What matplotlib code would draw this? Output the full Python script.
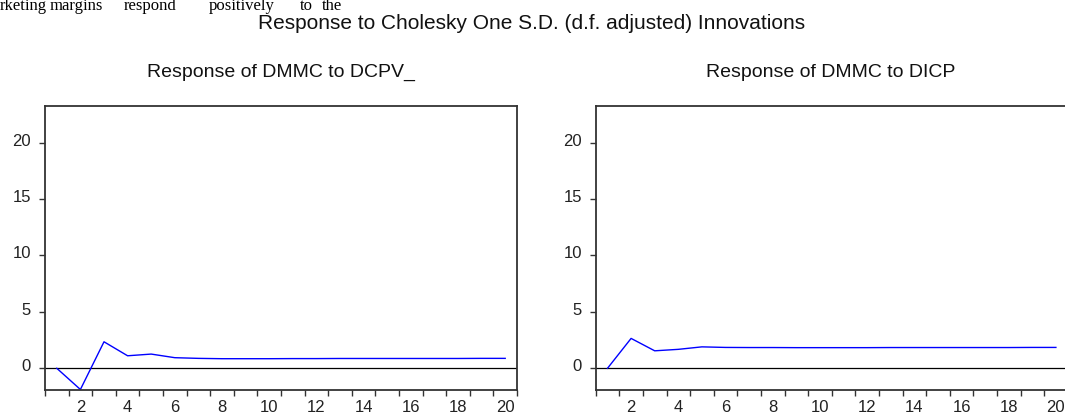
import numpy as np
import matplotlib
matplotlib.use("Agg")
import matplotlib.pyplot as plt
from matplotlib.ticker import FixedLocator
from matplotlib.transforms import ScaledTranslation

periods = list(range(1, 21))
resp_dcpv = [0.0, -1.88, 2.35, 1.11, 1.26, 0.94, 0.88, 0.85, 0.85, 0.85,
             0.86, 0.86, 0.87, 0.87, 0.87, 0.87, 0.87, 0.87, 0.88, 0.88]
resp_dicp = [0.0, 2.65, 1.55, 1.68, 1.90, 1.85, 1.84, 1.84, 1.83, 1.83,
             1.83, 1.83, 1.84, 1.84, 1.84, 1.84, 1.84, 1.84, 1.85, 1.85]
y_ticks = [0, 5, 10, 15, 20]
x_labels = [2, 4, 6, 8, 10, 12, 14, 16, 18, 20]

main_title = "Response to Cholesky One S.D. (d.f. adjusted) Innovations"
titles = ["Response of DMMC to DCPV_", "Response of DMMC to DICP"]
doc_words = ["rketing", "margins", "respond", "positively", "to", "the"]

W, H = 1065, 414


def setup_axes(ax):
    ax.set_xlim(0.5, 20.5)
    ax.set_ylim(-1.88, 23.28)
    for s in ax.spines.values():
        s.set_color("#333333")
        s.set_linewidth(1.3)
    ax.axhline(0, color="black", lw=0.9, zorder=1)
    ax.xaxis.set_major_locator(FixedLocator(x_labels))
    ax.xaxis.set_minor_locator(FixedLocator(np.arange(0.5, 21, 1.0)))
    ax.tick_params(axis="x", which="major", length=0, pad=7,
                   labelsize=12, labelcolor="#222222")
    ax.tick_params(axis="x", which="minor", length=4.5, width=1,
                   direction="out", color="#333333")
    ax.set_yticks(y_ticks)
    ax.tick_params(axis="y", length=4, width=1, direction="out",
                   color="#333333", pad=6, labelsize=12, labelcolor="#222222")
    off = ScaledTranslation(0, 4 / 100, ax.figure.dpi_scale_trans)
    for lbl in ax.get_yticklabels():
        lbl.set_transform(lbl.get_transform() + off)


def main():
    plt.rcParams["font.family"] = ["Liberation Sans", "DejaVu Sans"]
    fig = plt.figure(figsize=(W / 100, H / 100), dpi=100)

    ax1 = fig.add_axes([45 / W, 1 - 390.5 / H, 472 / W, 283.8 / H])
    ax2 = fig.add_axes([595.7 / W, 1 - 390.5 / H, 472 / W, 283.8 / H])

    for ax, vals, t, cx in [(ax1, resp_dcpv, titles[0], 281),
                            (ax2, resp_dicp, titles[1], 831)]:
        setup_axes(ax)
        ax.plot(periods, vals, color="#0000ff", lw=1.0, zorder=2)
        fig.text(cx / W, 1 - 77 / H, t, ha="center", va="baseline",
                 fontsize=14, color="#111111")

    fig.text(532 / W, 1 - 29 / H, main_title, ha="center", va="baseline",
             fontsize=15, color="#111111")

    # line of document text above the chart (top cut off in the source)
    word_x = [0, 50, 124, 209, 300, 322]
    for w, x in zip(doc_words, word_x):
        fig.text(x / W, 1 - 10 / H, w, ha="left", va="baseline",
                 fontsize=12, family="Liberation Serif", color="black")

    fig.savefig("out.png", dpi=100)


if __name__ == "__main__":
    main()
